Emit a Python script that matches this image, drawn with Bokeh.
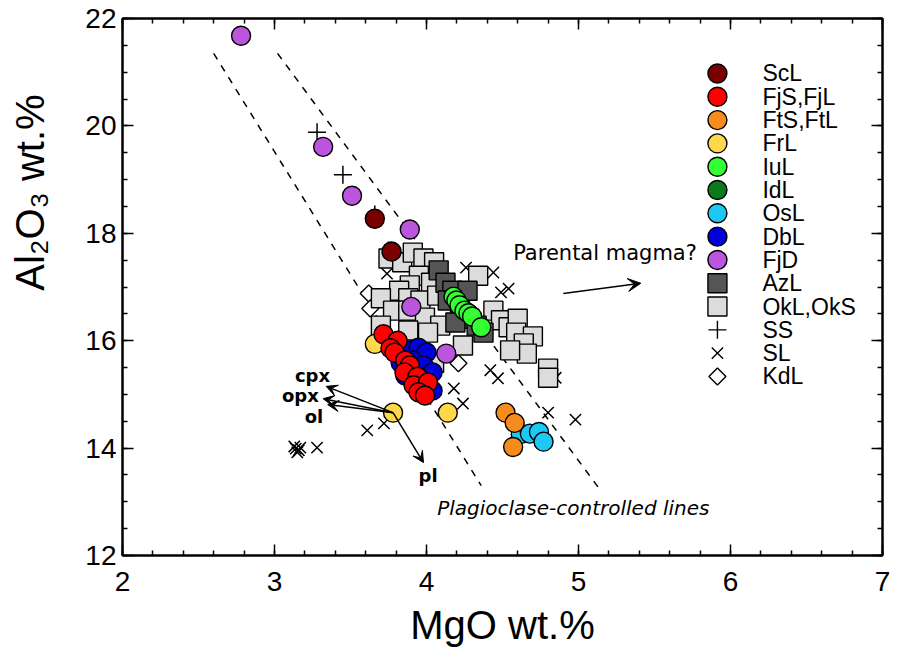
import numpy as np
from bokeh.plotting import figure
from bokeh.models import Range1d, LinearAxis, Arrow, VeeHead, ColumnDataSource, SingleIntervalTicker
from bokeh.core.properties import value
from bokeh.embed import file_html
from bokeh.resources import INLINE

# ---------------- data (MgO wt.%, Al2O3 wt.%) ----------------
ScL_mgo = [3.66, 3.77]
ScL_al = [18.27, 17.66]

FjS_mgo = [3.717, 3.81, 3.763, 3.79, 3.86, 3.89, 3.855, 3.94, 3.915, 4.01, 3.947, 3.99]
FjS_al = [16.12, 16.00, 15.86, 15.78, 15.63, 15.54, 15.41, 15.33, 15.17, 15.22, 15.04, 14.98]

FtS_mgo = [4.52, 4.58, 4.57]
FtS_al = [14.66, 14.47, 14.02]

FrL_mgo = [3.66, 3.78, 4.14]
FrL_al = [15.94, 14.66, 14.66]

IuL_mgo = [4.178, 4.197, 4.217, 4.25, 4.276, 4.30, 4.36]
IuL_al = [16.82, 16.75, 16.66, 16.56, 16.51, 16.45, 16.25]

IdL_mgo = [4.22]
IdL_al = [16.65]

OsL_mgo = [4.62, 4.68, 4.74, 4.77]
OsL_al = [14.26, 14.27, 14.30, 14.12]

DbL_mgo = [3.895, 3.947, 4.0, 3.83, 3.908, 3.98, 4.04, 3.86, 3.93, 4.01, 4.04, 3.96]
DbL_al = [15.82, 15.87, 15.78, 15.59, 15.63, 15.54, 15.41, 15.35, 15.30, 15.22, 15.07, 15.04]

FjD_mgo = [2.78, 3.32, 3.51, 3.89, 3.90, 4.13]
FjD_al = [21.68, 19.61, 18.70, 18.07, 16.63, 15.76]

AzL_mgo = [4.08, 4.125, 4.17, 4.27, 4.14, 4.22, 4.28, 4.33, 4.375, 4.19]
AzL_al = [17.31, 17.08, 16.93, 16.93, 16.75, 16.56, 16.41, 16.28, 16.15, 16.34]

OkL_mgo = [3.75, 3.84, 3.91, 3.98, 4.05, 4.34, 3.95, 4.03, 3.89, 3.82, 3.70, 3.88, 3.96,
           4.07, 3.78, 3.88, 3.99, 4.09, 3.70, 3.88, 4.01, 4.24, 4.44, 4.49, 4.54, 4.60,
           4.59, 4.70, 4.64, 4.66, 4.55, 4.80, 4.80, 4.05]
OkL_al = [17.53, 17.46, 17.64, 17.53, 17.46, 17.21, 17.21, 17.08, 17.03, 16.93, 16.79, 16.79, 16.75,
          16.84, 16.56, 16.56, 16.43, 16.28, 16.28, 16.19, 16.15, 15.91, 16.56, 16.38, 16.25, 16.41,
          16.15, 16.08, 15.95, 15.76, 15.82, 15.48, 15.31, 15.59]

SS_mgo = [3.28, 3.45, 3.66, 3.75]
SS_al = [19.88, 19.09, 18.35, 17.68]

SL_mgo = [3.14, 3.16, 3.17, 3.13, 3.15, 3.28, 3.61, 3.72, 3.74, 3.83, 4.26, 4.44, 4.54, 4.49,
          4.18, 4.24, 4.42, 4.47, 4.80, 4.98, 4.85]
SL_al = [13.99, 13.96, 14.01, 14.03, 13.92, 14.01, 14.33, 14.46, 17.25, 17.53, 17.36, 17.27, 16.97, 16.90,
         15.11, 14.83, 15.45, 15.30, 14.66, 14.53, 15.31]

KdL_mgo = [3.62, 3.63, 4.21]
KdL_al = [16.88, 16.60, 15.58]

# plagioclase-controlled lines (end points)
plag_lines_mgo = [[2.60, 4.36], [3.02, 5.13]]
plag_lines_al = [[21.35, 13.30], [21.35, 13.27]]

# mineral-control vectors from the FrL sample
minerals = ["cpx", "opx", "ol", "pl"]
mineral_tip_mgo = [3.34, 3.32, 3.35, 3.98]
mineral_tip_al = [15.15, 14.92, 14.81, 13.73]
mineral_lab_mgo = [3.25, 3.17, 3.26, 4.01]
mineral_lab_al = [15.35, 14.98, 14.59, 13.49]

parental_arrow = [(4.90, 16.88), (5.41, 17.07)]

legend_names = ["ScL", "FjS,FjL", "FtS,FtL", "FrL", "IuL", "IdL", "OsL", "DbL", "FjD",
                "AzL", "OkL,OkS", "SS", "SL", "KdL"]

x_ticks = [2, 3, 4, 5, 6, 7]
y_ticks = [12, 14, 16, 18, 20, 22]

# ---------------- styles ----------------
circ_style = dict(size=19, line_color="black", line_width=1.4)
colors = {"ScL": "#7a0000", "FjS": "#ff0000", "FtS": "#f78c1e", "FrL": "#ffd84a",
          "IuL": "#33ff33", "IdL": "#0a7a1a", "OsL": "#1ec8f5", "DbL": "#0000dd",
          "FjD": "#bb55dd", "AzL": "#555555", "OkL": "#dcdcdc"}

p = figure(frame_width=760, frame_height=537, x_range=Range1d(2, 7), y_range=Range1d(12, 22),
           output_backend="svg", toolbar_location=None,
           min_border_left=122, min_border_top=18, min_border_right=8, min_border_bottom=94,
           background_fill_color="white", border_fill_color="white")
p.grid.visible = False
p.outline_line_color = "black"
p.outline_line_width = 2

FONT = "Liberation Sans"

def style_axis(ax, ticks, labels=True):
    ax.major_tick_in = 11
    ax.major_tick_out = 0
    ax.minor_tick_in = 5
    ax.minor_tick_out = 0
    ax.axis_line_width = 2
    ax.major_tick_line_width = 1.5
    ax.minor_tick_line_width = 1.5
    ax.major_label_text_font = FONT
    ax.major_label_text_color = "black"
    ax.major_label_text_font_size = "28px"
    if not labels:
        ax.major_label_overrides = {t: "" for t in ticks}
        ax.major_label_standoff = 0

p.xaxis.ticker = SingleIntervalTicker(interval=1, num_minor_ticks=5)
p.yaxis.ticker = SingleIntervalTicker(interval=2, num_minor_ticks=4)
style_axis(p.xaxis[0], x_ticks)
style_axis(p.yaxis[0], y_ticks)
p.xaxis.major_label_standoff = 16
p.yaxis.major_label_standoff = 6
p.xaxis.axis_label = "MgO wt.%"
p.xaxis.axis_label_text_font = FONT
p.xaxis.axis_label_text_font_style = "normal"
p.xaxis.axis_label_text_font_size = "40px"
p.xaxis.axis_label_text_color = "black"
p.xaxis.axis_label_standoff = 9

# y title sits above the axis centre in the original: lead it with no-break spaces
p.yaxis.axis_label = "\u00a0" * 17 + "Al₂O₃ wt.%"
p.yaxis.axis_label_text_font = FONT
p.yaxis.axis_label_text_font_style = "normal"
p.yaxis.axis_label_text_font_size = "40px"
p.yaxis.axis_label_text_color = "black"
p.yaxis.axis_label_standoff = 30

ax_top = LinearAxis(ticker=SingleIntervalTicker(interval=1, num_minor_ticks=5))
style_axis(ax_top, x_ticks, labels=False)
p.add_layout(ax_top, "above")
ax_right = LinearAxis(ticker=SingleIntervalTicker(interval=2, num_minor_ticks=4))
style_axis(ax_right, y_ticks, labels=False)
p.add_layout(ax_right, "right")

# dashed plagioclase-controlled lines
p.multi_line(plag_lines_mgo, plag_lines_al, line_color="black", line_width=1.5, line_dash="7 7")

# mineral vectors
for tx, ty in zip(mineral_tip_mgo, mineral_tip_al):
    p.add_layout(Arrow(end=VeeHead(size=11, fill_color="black", line_color="black", line_width=1),
                       x_start=FrL_mgo[1], y_start=FrL_al[1], x_end=tx, y_end=ty,
                       line_color="black", line_width=1.5))
p.text(mineral_lab_mgo, mineral_lab_al, text=minerals, text_font=value("DejaVu Sans"),
       text_font_size="18px", text_font_style="bold", text_align="center", text_baseline="middle")

# parental magma arrow + note
p.add_layout(Arrow(end=VeeHead(size=13, fill_color="black", line_color="black", line_width=1),
                   x_start=parental_arrow[0][0], y_start=parental_arrow[0][1],
                   x_end=parental_arrow[1][0], y_end=parental_arrow[1][1],
                   line_color="black", line_width=1.5))
p.text([4.57], [17.64], text=["Parental magma?"], text_font=value("DejaVu Sans"),
       text_font_size="21px", text_align="left", text_baseline="middle")
p.text([4.07], [12.89], text=["Plagioclase-controlled lines"], text_font=value("DejaVu Sans"),
       text_font_size="20px", text_font_style="italic", text_align="left", text_baseline="middle")

# data points
p.scatter(SL_mgo, SL_al, marker="x", size=16, line_color="black", line_width=1.5)
p.scatter(SS_mgo, SS_al, marker="cross", size=18, line_color="black", line_width=1.5)
p.scatter(KdL_mgo, KdL_al, marker="square", angle=np.pi / 4, size=12, fill_color="white",
          line_color="black", line_width=1.4)
p.scatter(OkL_mgo, OkL_al, marker="square", size=19, fill_color=colors["OkL"], line_color="black", line_width=1.4)
p.scatter(AzL_mgo, AzL_al, marker="square", size=19, fill_color=colors["AzL"], line_color="black", line_width=1.4)
p.scatter(FrL_mgo, FrL_al, marker="circle", fill_color=colors["FrL"], **circ_style)
p.scatter(DbL_mgo, DbL_al, marker="circle", fill_color=colors["DbL"], **circ_style)
p.scatter(FjS_mgo, FjS_al, marker="circle", fill_color=colors["FjS"], **circ_style)
p.scatter(OsL_mgo, OsL_al, marker="circle", fill_color=colors["OsL"], **circ_style)
p.scatter(FtS_mgo, FtS_al, marker="circle", fill_color=colors["FtS"], **circ_style)
p.scatter(IdL_mgo, IdL_al, marker="circle", fill_color=colors["IdL"], **circ_style)
p.scatter(IuL_mgo, IuL_al, marker="circle", fill_color=colors["IuL"], **circ_style)
p.scatter(FjD_mgo, FjD_al, marker="circle", fill_color=colors["FjD"], **circ_style)
p.scatter(ScL_mgo, ScL_al, marker="circle", fill_color=colors["ScL"], **circ_style)

# legend (drawn inside the frame)
leg_markers = ["circle"] * 9 + ["square", "square", "cross", "x", "square"]
leg_fill = [colors[k] for k in ["ScL", "FjS", "FtS", "FrL", "IuL", "IdL", "OsL", "DbL", "FjD", "AzL", "OkL"]] + \
           ["black", "black", "white"]
leg_size = [19] * 9 + [19, 19, 18, 16, 12]
leg_angle = [0] * 13 + [np.pi / 4]
n = len(legend_names)
leg_y = [20.976 - 0.434 * i for i in range(n)]
leg_src = ColumnDataSource(dict(x=[5.914] * n, y=leg_y, m=leg_markers, f=leg_fill, s=leg_size,
                                a=leg_angle, lx=[6.21] * n, t=legend_names))
p.scatter("x", "y", marker="m", fill_color="f", size="s", angle="a", line_color="black",
          line_width=1.4, source=leg_src)
p.text("lx", "y", text="t", source=leg_src, text_font=value(FONT), text_font_size="23px",
       text_align="left", text_baseline="middle")

open("out.html", "w").write(file_html(p, INLINE))
